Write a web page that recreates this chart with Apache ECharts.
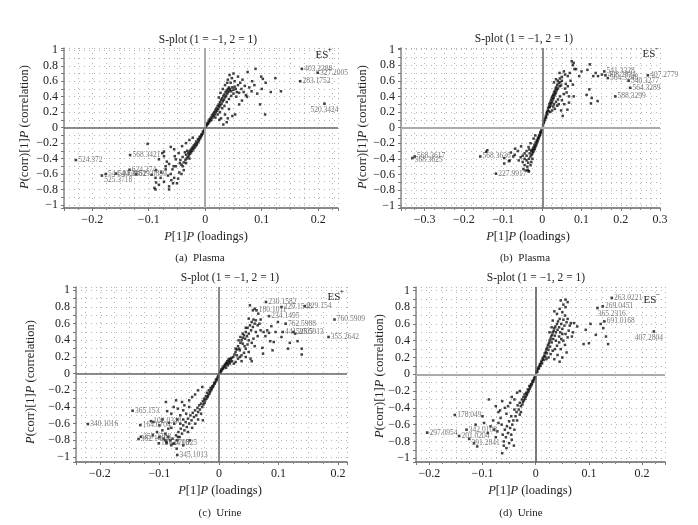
<!DOCTYPE html>
<html><head><meta charset="utf-8">
<script src="https://cdn.jsdelivr.net/npm/echarts@6/dist/echarts.min.js"></script>
<style>html,body{margin:0;padding:0;background:#fff}#c{width:698px;height:525px}</style>
</head><body><div id="c"></div><script>
// ---------- DATA ----------
// (a) Plasma ES+ : [P[1]P loading, P(corr)[1]P correlation]
const plasmaPosPoints = [
[0.001,0.01],[0.002,0.04],[0.003,0.03],[0.004,0.06],[0.005,0.05],[0.006,0.09],[0.007,0.07],[0.008,0.11],[0.009,0.09],[0.01,0.13],[0.011,0.1],[0.012,0.16],[0.013,0.13],[0.014,0.18],[0.015,0.15],[0.016,0.2],[0.017,0.17],[0.018,0.23],[0.019,0.2],[0.02,0.25],[0.021,0.22],[0.022,0.28],[0.023,0.24],[0.024,0.3],[0.025,0.27],[0.026,0.33],[0.027,0.29],[0.028,0.36],[0.029,0.31],[0.03,0.38],[0.031,0.34],[0.032,0.41],[0.033,0.36],[0.034,0.43],[0.035,0.39],[0.036,0.46],[0.037,0.41],[0.038,0.48],[0.039,0.44],[0.04,0.5],[0.041,0.46],[0.042,0.52],[0.043,0.48],[0.044,0.5],[0.046,0.47],[0.048,0.52],[0.05,0.49],[0.052,0.53],[0.054,0.5],[0.056,0.46],
[0.018,0.13],[0.022,0.17],[0.026,0.2],[0.03,0.25],[0.034,0.28],[0.038,0.33],[0.042,0.37],[0.046,0.41],[0.05,0.44],[0.055,0.4],[0.06,0.45],[0.064,0.5],[0.068,0.46],[0.072,0.42],[0.058,0.55],[0.062,0.58],[0.052,0.6],[0.047,0.64],[0.043,0.68],[0.05,0.7],[0.058,0.66],[0.066,0.62],[0.07,0.54],[0.027,0.45],[0.031,0.5],[0.035,0.55],[0.039,0.58],[0.024,0.39],[0.045,0.58],[0.04,0.62],[0.028,0.12],[0.035,0.17],[0.04,0.12],[0.048,0.15],[0.053,0.17],[0.042,0.24],[0.038,0.07],[0.032,0.04],[0.06,0.3],[0.065,0.35],[0.025,0.1],
[0.075,0.72],[0.089,0.76],[0.099,0.66],[0.124,0.64],[0.107,0.58],[0.083,0.6],[0.087,0.55],[0.1,0.5],[0.116,0.46],[0.134,0.47],[0.097,0.3],[0.106,0.17],[0.078,0.52],[0.074,0.4],[0.092,0.44],[0.082,0.47],[0.102,0.63],
[-0.001,-0.02],[-0.002,-0.04],[-0.003,-0.06],[-0.004,-0.05],[-0.005,-0.08],[-0.006,-0.1],[-0.007,-0.09],[-0.008,-0.12],[-0.009,-0.14],[-0.01,-0.12],[-0.011,-0.16],[-0.012,-0.18],[-0.013,-0.15],[-0.014,-0.2],[-0.015,-0.22],[-0.016,-0.18],[-0.017,-0.24],[-0.018,-0.21],[-0.019,-0.26],[-0.02,-0.23],[-0.021,-0.28],[-0.022,-0.25],[-0.023,-0.3],[-0.024,-0.27],[-0.025,-0.32],[-0.026,-0.29],[-0.027,-0.34],[-0.028,-0.31],[-0.029,-0.36],[-0.03,-0.33],[-0.031,-0.38],[-0.032,-0.3],[-0.033,-0.4],[-0.034,-0.35],[-0.035,-0.42],[-0.036,-0.32],[-0.038,-0.45],[-0.04,-0.38],[-0.042,-0.48],[-0.044,-0.42],
[-0.102,-0.21],[-0.076,-0.33],[-0.073,-0.37],[-0.055,-0.28],[-0.052,-0.41],[-0.064,-0.47],[-0.07,-0.54],[-0.061,-0.6],[-0.055,-0.65],[-0.046,-0.58],[-0.04,-0.5],[-0.034,-0.46],[-0.028,-0.4],[-0.047,-0.33],[-0.041,-0.24],[-0.034,-0.2],[-0.028,-0.16],[-0.022,-0.13],[-0.073,-0.7],[-0.082,-0.74],[-0.064,-0.76],[-0.05,-0.72],[-0.09,-0.78],[-0.088,-0.65],[-0.058,-0.54],[-0.082,-0.41],
[-0.088,-0.8],[-0.064,-0.8],[-0.087,-0.71],[-0.079,-0.65],[-0.056,-0.5],[-0.042,-0.6],[-0.045,-0.46],[-0.054,-0.37],[-0.061,-0.25],[-0.073,-0.31],[-0.07,-0.5],[-0.087,-0.55],[-0.095,-0.61],[-0.066,-0.62],[-0.06,-0.68],[-0.048,-0.66],[-0.038,-0.55],[-0.052,-0.5],[-0.068,-0.44],[-0.078,-0.58],[-0.057,-0.72]
];
const plasmaPosLabeled = [
['403.2388',0.171,0.76],['327.2005',0.199,0.71],['283.1752',0.168,0.60],['520.3424',0.211,0.31],
['524.372',-0.229,-0.42],['568.3421',-0.133,-0.355],['525.3718',-0.183,-0.62],['544.4068',-0.176,-0.6],
['544.3862',-0.158,-0.595],['624.374',-0.134,-0.545],['519.0859',-0.122,-0.605]
];

// (b) Plasma ES-
const plasmaNegPoints = [
[0.002,0.03],[0.004,0.06],[0.005,0.08],[0.006,0.1],[0.008,0.12],[0.009,0.15],[0.01,0.13],[0.011,0.18],[0.012,0.2],[0.013,0.17],[0.014,0.22],[0.015,0.25],[0.016,0.21],[0.017,0.27],[0.018,0.3],[0.019,0.26],[0.02,0.32],[0.021,0.28],[0.022,0.35],[0.023,0.31],[0.024,0.38],[0.025,0.33],[0.026,0.4],[0.027,0.36],[0.028,0.42],[0.029,0.38],[0.03,0.45],[0.031,0.41],[0.032,0.47],[0.033,0.43],[0.034,0.5],[0.035,0.45],[0.036,0.52],[0.037,0.48],[0.038,0.55],[0.04,0.5],[0.042,0.57],[0.044,0.53],[0.046,0.58],[0.048,0.54],[0.05,0.6],
[0.02,0.2],[0.025,0.22],[0.028,0.27],[0.03,0.3],[0.032,0.24],[0.035,0.33],[0.038,0.28],[0.04,0.36],[0.042,0.3],[0.045,0.4],[0.05,0.35],[0.052,0.15],[0.048,0.22],[0.055,0.43],[0.058,0.5],[0.06,0.56],[0.062,0.45],[0.065,0.53],[0.068,0.4],[0.072,0.6],[0.075,0.85],[0.08,0.83],[0.078,0.8],[0.082,0.75],[0.086,0.75],[0.07,0.7],[0.065,0.66],[0.058,0.68],[0.055,0.72],[0.05,0.65],[0.045,0.63],[0.04,0.6],[0.1,0.72],[0.094,0.66],[0.078,0.55],[0.08,0.4],[0.064,0.23],[0.056,0.3],[0.068,0.32],[0.03,0.58],[0.035,0.62],[0.044,0.7],
[0.115,0.74],[0.121,0.81],[0.142,0.66],[0.113,0.42],[0.12,0.49],[0.126,0.38],[0.124,0.31],[0.141,0.34],[0.136,0.7],[0.13,0.66],[0.152,0.68],
[-0.002,-0.03],[-0.003,-0.05],[-0.004,-0.07],[-0.005,-0.06],[-0.006,-0.09],[-0.007,-0.11],[-0.008,-0.1],[-0.009,-0.13],[-0.01,-0.15],[-0.011,-0.13],[-0.012,-0.17],[-0.013,-0.19],[-0.014,-0.16],[-0.015,-0.21],[-0.016,-0.23],[-0.017,-0.19],[-0.018,-0.25],[-0.019,-0.27],[-0.02,-0.22],[-0.021,-0.29],[-0.022,-0.25],[-0.023,-0.31],[-0.024,-0.27],[-0.025,-0.33],[-0.026,-0.29],[-0.027,-0.35],[-0.028,-0.3],[-0.03,-0.37],[-0.032,-0.33],[-0.034,-0.4],
[-0.036,-0.45],[-0.038,-0.5],[-0.04,-0.42],[-0.042,-0.55],[-0.035,-0.56],[-0.045,-0.48],[-0.048,-0.53],[-0.03,-0.48],[-0.028,-0.44],[-0.025,-0.4],[-0.03,-0.2],[-0.035,-0.25],[-0.04,-0.3],[-0.045,-0.33],[-0.05,-0.36],[-0.055,-0.38],[-0.054,-0.24],[-0.062,-0.3],[-0.069,-0.27],[-0.07,-0.35],[-0.074,-0.37],[-0.08,-0.32],[-0.083,-0.42],[-0.085,-0.43],[-0.097,-0.39],[-0.097,-0.46],[-0.14,-0.29],[-0.143,-0.31],[-0.05,-0.44],[-0.045,-0.4],[-0.04,-0.36],[-0.022,-0.14],[-0.018,-0.1],[-0.033,-0.28],[-0.06,-0.42],[-0.037,-0.54],[-0.034,-0.56]
];
const plasmaNegLabeled = [
['541.3328',0.158,0.72],['408.2834',0.161,0.67],['564.3248',0.167,0.635],['540.3277',0.22,0.6],
['564.3289',0.224,0.51],['588.3299',0.186,0.40],['407.2779',0.269,0.67],['568.3617',-0.325,-0.37],
['568.3625',-0.331,-0.39],['568.3636',-0.158,-0.37],['227.9917',-0.118,-0.59]
];

// (c) Urine ES+
const urinePosPoints = [
[0.001,0.01],[0.002,0.03],[0.003,0.02],[0.004,0.05],[0.005,0.04],[0.006,0.07],[0.007,0.06],[0.008,0.09],[0.009,0.08],[0.01,0.11],[0.011,0.1],[0.012,0.13],[0.013,0.12],[0.014,0.15],[0.015,0.13],[0.016,0.17],[0.017,0.15],[0.018,0.18],[0.019,0.14],[0.02,0.17],[0.021,0.19],[0.015,0.1],[0.018,0.12],[0.022,0.15],[0.012,0.07],[0.024,0.2],[0.026,0.23],[0.028,0.26],[0.03,0.29],[0.032,0.33],[0.034,0.3],[0.036,0.37],[0.038,0.4],[0.04,0.43],[0.04,0.36],[0.042,0.46],[0.044,0.42],[0.045,0.5],[0.047,0.45],[0.048,0.55],[0.05,0.48],[0.052,0.58],[0.054,0.52],[0.055,0.62],[0.057,0.56],[0.06,0.6],[0.05,0.66],[0.052,0.82],[0.058,0.65],[0.062,0.64],[0.065,0.58],[0.062,0.5],[0.058,0.42],[0.055,0.37],[0.06,0.33],[0.065,0.45],[0.07,0.52],[0.068,0.6],[0.045,0.3],[0.042,0.25],[0.038,0.22],[0.035,0.2],[0.032,0.18],[0.028,0.14],[0.025,0.12],[0.038,0.15],[0.045,0.2],[0.05,0.26],[0.053,0.18],[0.055,0.15],[0.043,0.33],[0.035,0.28],[0.03,0.22],[0.028,0.3],[0.033,0.4],[0.036,0.44],[0.04,0.48],[0.045,0.55],[0.05,0.4],[0.048,0.35],
[0.075,0.5],[0.084,0.49],[0.086,0.39],[0.073,0.31],[0.074,0.24],[0.078,0.45],[0.081,0.52],[0.092,0.38],[0.099,0.62],[0.119,0.37],[0.132,0.39],[0.139,0.3],[0.116,0.3],[0.139,0.23],[0.095,0.5],[0.09,0.28],[0.105,0.44],[0.088,0.57],[0.07,0.65],[0.066,0.72],[0.06,0.78],[0.057,0.76],[0.128,0.48],
[-0.001,-0.02],[-0.002,-0.04],[-0.003,-0.06],[-0.004,-0.08],[-0.005,-0.07],[-0.006,-0.1],[-0.007,-0.12],[-0.008,-0.11],[-0.009,-0.14],[-0.01,-0.16],[-0.011,-0.15],[-0.012,-0.18],[-0.013,-0.2],[-0.014,-0.17],[-0.015,-0.22],[-0.016,-0.24],[-0.017,-0.2],[-0.018,-0.26],[-0.019,-0.28],[-0.02,-0.23],[-0.021,-0.3],[-0.022,-0.27],[-0.023,-0.32],[-0.024,-0.35],[-0.025,-0.3],[-0.026,-0.37],[-0.027,-0.33],[-0.028,-0.4],[-0.03,-0.36],[-0.032,-0.43],[-0.033,-0.38],[-0.035,-0.46],[-0.036,-0.41],[-0.038,-0.5],[-0.04,-0.44],
[-0.042,-0.52],[-0.044,-0.47],[-0.046,-0.56],[-0.048,-0.5],[-0.05,-0.6],[-0.052,-0.54],[-0.054,-0.64],[-0.056,-0.58],[-0.058,-0.68],[-0.06,-0.62],[-0.062,-0.72],[-0.064,-0.66],[-0.066,-0.76],[-0.068,-0.7],[-0.07,-0.8],[-0.072,-0.74],[-0.075,-0.84],[-0.078,-0.78],[-0.08,-0.86],[-0.082,-0.8],[-0.085,-0.76],[-0.088,-0.82],[-0.09,-0.72],[-0.093,-0.78],[-0.095,-0.68],[-0.1,-0.76],[-0.104,-0.7],[-0.111,-0.74],[-0.09,-0.8],[-0.077,-0.84],[-0.069,-0.76],[-0.049,-0.8],[-0.052,-0.7],[-0.045,-0.65],[-0.04,-0.6],[-0.035,-0.55],[-0.03,-0.48],[-0.027,-0.56],[-0.055,-0.48],[-0.06,-0.44],[-0.065,-0.5],[-0.07,-0.55],[-0.075,-0.6],[-0.08,-0.65],[-0.058,-0.38],[-0.062,-0.34],[-0.072,-0.32],[-0.089,-0.34],[-0.084,-0.59],[-0.069,-0.42],[-0.05,-0.32],[-0.045,-0.28],[-0.04,-0.25],[-0.035,-0.2],[-0.028,-0.16],[-0.05,-0.4],[-0.06,-0.55],[-0.065,-0.6],[-0.085,-0.66],[-0.1,-0.62],[-0.11,-0.58],[-0.095,-0.55],[-0.08,-0.48],[-0.076,-0.4],[-0.087,-0.45],[-0.071,-0.9],[-0.06,-0.86]
];
const urinePosLabeled = [
['230.1582',0.079,0.86],['180.1011',0.063,0.76],['229.1548',0.105,0.80],['229.154',0.144,0.81],
['234.1495',0.084,0.69],['762.5988',0.112,0.60],['441.2005',0.107,0.50],['525.5913',0.125,0.50],
['760.5909',0.194,0.65],['355.2642',0.184,0.44],['365.153',-0.145,-0.445],['340.1016',-0.22,-0.605],
['164.0704',-0.132,-0.617],['102.0348',-0.114,-0.57],['357.2788',-0.131,-0.757],['382.1495',-0.135,-0.784],
['178.0715',-0.101,-0.836],['124.0825',-0.088,-0.836],['345.1013',-0.07,-0.976]
];

// (d) Urine ES-
const urineNegPoints = [
[0.001,0.02],[0.002,0.04],[0.003,0.03],[0.004,0.06],[0.005,0.08],[0.006,0.07],[0.007,0.1],[0.008,0.12],[0.009,0.1],[0.01,0.14],[0.011,0.16],[0.012,0.13],[0.013,0.18],[0.014,0.2],[0.015,0.17],[0.016,0.22],[0.017,0.25],[0.018,0.21],[0.019,0.27],[0.02,0.3],[0.021,0.25],[0.022,0.32],[0.023,0.35],[0.024,0.29],[0.025,0.37],[0.026,0.4],[0.027,0.33],[0.028,0.42],[0.029,0.45],[0.03,0.38],[0.031,0.47],[0.032,0.5],[0.033,0.42],[0.034,0.52],[0.035,0.55],[0.036,0.46],[0.037,0.57],[0.038,0.5],[0.04,0.6],[0.041,0.53],[0.042,0.63],[0.044,0.56],[0.045,0.66],[0.046,0.5],[0.048,0.6],[0.05,0.54],[0.052,0.65],[0.054,0.58],[0.056,0.48],[0.058,0.62],
[0.02,0.18],[0.024,0.2],[0.028,0.24],[0.032,0.28],[0.036,0.3],[0.04,0.34],[0.044,0.38],[0.048,0.42],[0.052,0.4],[0.041,0.23],[0.035,0.18],[0.047,0.3],[0.055,0.35],[0.06,0.44],[0.062,0.52],[0.064,0.58],[0.06,0.66],[0.055,0.7],[0.05,0.74],[0.045,0.78],[0.04,0.72],[0.035,0.75],[0.047,0.88],[0.056,0.89],[0.06,0.86],[0.056,0.8],[0.052,0.83],[0.066,0.61],[0.072,0.61],[0.078,0.57],[0.07,0.5],[0.068,0.45],[0.032,0.64],[0.03,0.56],[0.026,0.5],[0.044,0.45],[0.05,0.48],[0.038,0.4],[0.058,0.26],[0.05,0.2],[0.045,0.15],
[0.094,0.53],[0.103,0.6],[0.113,0.47],[0.09,0.36],[0.1,0.37],[0.136,0.36],[0.132,0.45],[0.127,0.55],[0.122,0.6],
[-0.001,-0.02],[-0.002,-0.04],[-0.003,-0.05],[-0.004,-0.07],[-0.005,-0.09],[-0.006,-0.08],[-0.007,-0.11],[-0.008,-0.13],[-0.009,-0.12],[-0.01,-0.15],[-0.011,-0.17],[-0.012,-0.14],[-0.013,-0.19],[-0.014,-0.21],[-0.015,-0.18],[-0.016,-0.23],[-0.017,-0.25],[-0.018,-0.22],[-0.019,-0.27],[-0.02,-0.29],[-0.021,-0.24],[-0.022,-0.31],[-0.023,-0.27],[-0.024,-0.33],[-0.025,-0.36],[-0.026,-0.3],[-0.028,-0.38],[-0.03,-0.34],[-0.032,-0.42],[-0.034,-0.37],
[-0.036,-0.45],[-0.038,-0.5],[-0.04,-0.42],[-0.042,-0.55],[-0.044,-0.6],[-0.046,-0.5],[-0.048,-0.64],[-0.05,-0.56],[-0.052,-0.7],[-0.054,-0.62],[-0.056,-0.75],[-0.058,-0.66],[-0.06,-0.8],[-0.062,-0.72],[-0.063,-0.94],[-0.06,-0.85],[-0.041,-0.85],[-0.045,-0.78],[-0.05,-0.82],[-0.055,-0.88],[-0.064,-0.6],[-0.066,-0.52],[-0.067,-0.43],[-0.07,-0.58],[-0.072,-0.68],[-0.075,-0.75],[-0.078,-0.66],[-0.08,-0.55],[-0.088,-0.3],[-0.063,-0.32],[-0.058,-0.4],[-0.055,-0.47],[-0.052,-0.38],[-0.048,-0.34],[-0.045,-0.27],[-0.04,-0.3],[-0.035,-0.22],[-0.03,-0.2],[-0.097,-0.58],[-0.1,-0.5],[-0.113,-0.6],[-0.116,-0.82],[-0.11,-0.86],[-0.085,-0.62],[-0.09,-0.7],[-0.035,-0.55],[-0.03,-0.48],[-0.04,-0.66],[-0.046,-0.72],[-0.028,-0.45],[-0.07,-0.45],[-0.075,-0.38]
];
const urineNegLabeled = [
['263.0221',0.143,0.91],['269.0451',0.126,0.81],['365.2316',0.116,0.79],['691.0168',0.129,0.63],
['407.2804',0.222,0.51],['178.049',-0.152,-0.485],['297.0954',-0.204,-0.695],['342.0108',-0.13,-0.66],
['201.0204',-0.144,-0.735],['391.2841',-0.125,-0.77]
];

// ---------- TEXT ----------
const plotTitle = 'S-plot (1 = \u22121, 2 = 1)';
const captions = ['(a)  Plasma', '(b)  Plasma', '(c)  Urine', '(d)  Urine'];
const ionModes = ['+', '\u2212', '+', '\u2212'];

// ---------- LAYOUT / STYLE ----------
const FONT = '"Liberation Serif","Times New Roman",serif';
const labelPlacement = {
  '520.3424': {position: 'bottom', distance: 1},
  '407.2804': {position: 'bottom', distance: 1, offset: [-5, 0]},
  '365.2316': {position: 'right', offset: [-2, 6]},
  '568.3625': {position: 'right', offset: [0, 2]},
  '525.3718': {position: 'right', offset: [0, 4]},
  '391.2841': {position: 'right', offset: [0, 4]}
};
const panels = [
  {pts: plasmaPosPoints, lab: plasmaPosLabeled, rect: [64, 48, 274, 160], x: [-0.25, 0.235], y: [-1.04, 1.03], xs: 5,
   zx: ['#aaa', 2], zy: ['#666', 1.5], title: [208, 40], yname: [25, 127], xname: [206, 237], cap: [200, 258], es: [323, 55]},
  {pts: plasmaNegPoints, lab: plasmaNegLabeled, rect: [401, 48, 259, 160], x: [-0.36, 0.3], y: [-1.03, 1.02], xs: 7,
   zx: ['#666', 1.5], zy: ['#aaa', 2.2], title: [524, 39], yname: [363, 127], xname: [528, 237], cap: [525, 258], es: [650, 54]},
  {pts: urinePosPoints, lab: urinePosLabeled, rect: [76, 287, 271, 175], x: [-0.24, 0.215], y: [-1.06, 1.04], xs: 5,
   zx: ['#666', 1.5], zy: ['#666', 1.5], title: [230, 278], yname: [31, 382], xname: [220, 491], cap: [220, 513], es: [335, 297]},
  {pts: urineNegPoints, lab: urineNegLabeled, rect: [416, 287, 249, 175], x: [-0.225, 0.243], y: [-1.045, 1.04], xs: 5,
   zx: ['#555', 1.5], zy: ['#aaa', 2.2], title: [536, 278], yname: [380, 376], xname: [530, 491], cap: [521, 513], es: [651, 300]}
];

function fmtNum(v) {
  if (Math.abs(v) < 1e-9) return '0';
  const s = String(Math.abs(v));
  return (v < 0 ? '\u2212' : '') + s;
}
function xLabel(v) {
  const r = Math.round(v * 10);
  if (Math.abs(v * 10 - r) > 1e-6) return '';
  return fmtNum(r / 10);
}
function yLabel(v) {
  const r = Math.round(v * 5);
  if (Math.abs(v * 5 - r) > 1e-6) return '';
  return fmtNum(Math.round(r * 2) / 10);
}
const dotted = {color: '#b4b4b4', type: [1, 4], width: 1};

const grid = [], xAxis = [], yAxis = [], series = [], graphic = [];
const rich = {
  n: {fontFamily: FONT, fontSize: 12.5, fill: '#222'},
  i: {fontFamily: FONT, fontSize: 12.5, fontStyle: 'italic', fill: '#222'}
};
function text(pos, str, size, extra) {
  return Object.assign({type: 'text', x: pos[0], y: pos[1], silent: true, z: 100,
    style: {text: str, fontFamily: FONT, fontSize: size, fill: '#222', align: 'center', verticalAlign: 'middle', rich: rich}}, extra || {});
}

panels.forEach((p, i) => {
  grid.push({left: p.rect[0], top: p.rect[1], width: p.rect[2], height: p.rect[3], containLabel: false});
  xAxis.push({
    gridIndex: i, type: 'value', min: p.x[0], max: p.x[1], splitNumber: p.xs,
    axisLine: {show: true, onZero: false, lineStyle: {color: '#666', width: 1.5}},
    axisTick: {show: true, length: 3, lineStyle: {color: '#777'}},
    minorTick: {show: true, splitNumber: 4, length: 2, lineStyle: {color: '#888'}},
    splitLine: {show: true, lineStyle: dotted},
    minorSplitLine: {show: true, lineStyle: dotted},
    axisLabel: {formatter: xLabel, fontFamily: FONT, fontSize: 12, color: '#222', margin: 6}
  });
  yAxis.push({
    gridIndex: i, type: 'value', min: p.y[0], max: p.y[1], splitNumber: 10,
    axisLine: {show: true, onZero: false, lineStyle: {color: '#888', width: 1.5}},
    axisTick: {show: true, length: 3, lineStyle: {color: '#777'}},
    minorTick: {show: true, splitNumber: 2, length: 3, lineStyle: {color: '#777'}},
    splitLine: {show: true, lineStyle: dotted},
    minorSplitLine: {show: true, lineStyle: dotted},
    axisLabel: {formatter: yLabel, fontFamily: FONT, fontSize: 12, color: '#222', margin: 6}
  });
  series.push({
    type: 'scatter', xAxisIndex: i, yAxisIndex: i, data: p.pts,
    symbol: 'rect', symbolSize: 2.5, itemStyle: {color: '#111'}, silent: true, animation: false,
    markLine: {silent: true, symbol: 'none', animation: false, label: {show: false},
      data: [
        {xAxis: 0, lineStyle: {color: p.zx[0], width: p.zx[1], type: 'solid'}},
        {yAxis: 0, lineStyle: {color: p.zy[0], width: p.zy[1], type: 'solid'}}
      ]}
  });
  series.push({
    type: 'scatter', xAxisIndex: i, yAxisIndex: i, silent: true, animation: false,
    symbol: 'rect', symbolSize: 2.6, itemStyle: {color: '#111'},
    data: p.lab.map(d => {
      const pl = labelPlacement[d[0]] || {};
      return {name: d[0], value: [d[1], d[2]],
        label: Object.assign({show: true, position: 'right', distance: 1, formatter: '{b}',
          fontFamily: FONT, fontSize: 7.5, color: '#555'}, pl)};
    })
  });
  graphic.push(text(p.title, plotTitle, 11.5));
  graphic.push(text(p.xname, '{i|P}{n|[1]}{i|P}{n| (loadings)}', 12.5));
  graphic.push(text(p.yname, '{i|P}{n|(corr)[1]}{i|P}{n| (correlation)}', 12.5, {rotation: Math.PI / 2}));
  graphic.push(text(p.cap, captions[i], 11));
  graphic.push(text([p.es[0] - 1, p.es[1]], 'ES', 11));
  graphic.push({type: 'text', x: p.es[0] + 7, y: p.es[1] - 5, silent: true, z: 101,
    style: {text: ionModes[i], fontFamily: FONT, fontSize: 8.5, fill: '#222', align: 'center', verticalAlign: 'middle'}});
});

const chart = echarts.init(document.getElementById('c'), null, {renderer: 'canvas'});
chart.setOption({
  backgroundColor: '#fff', animation: false,
  grid, xAxis, yAxis, series, graphic
});
</script></body></html>
